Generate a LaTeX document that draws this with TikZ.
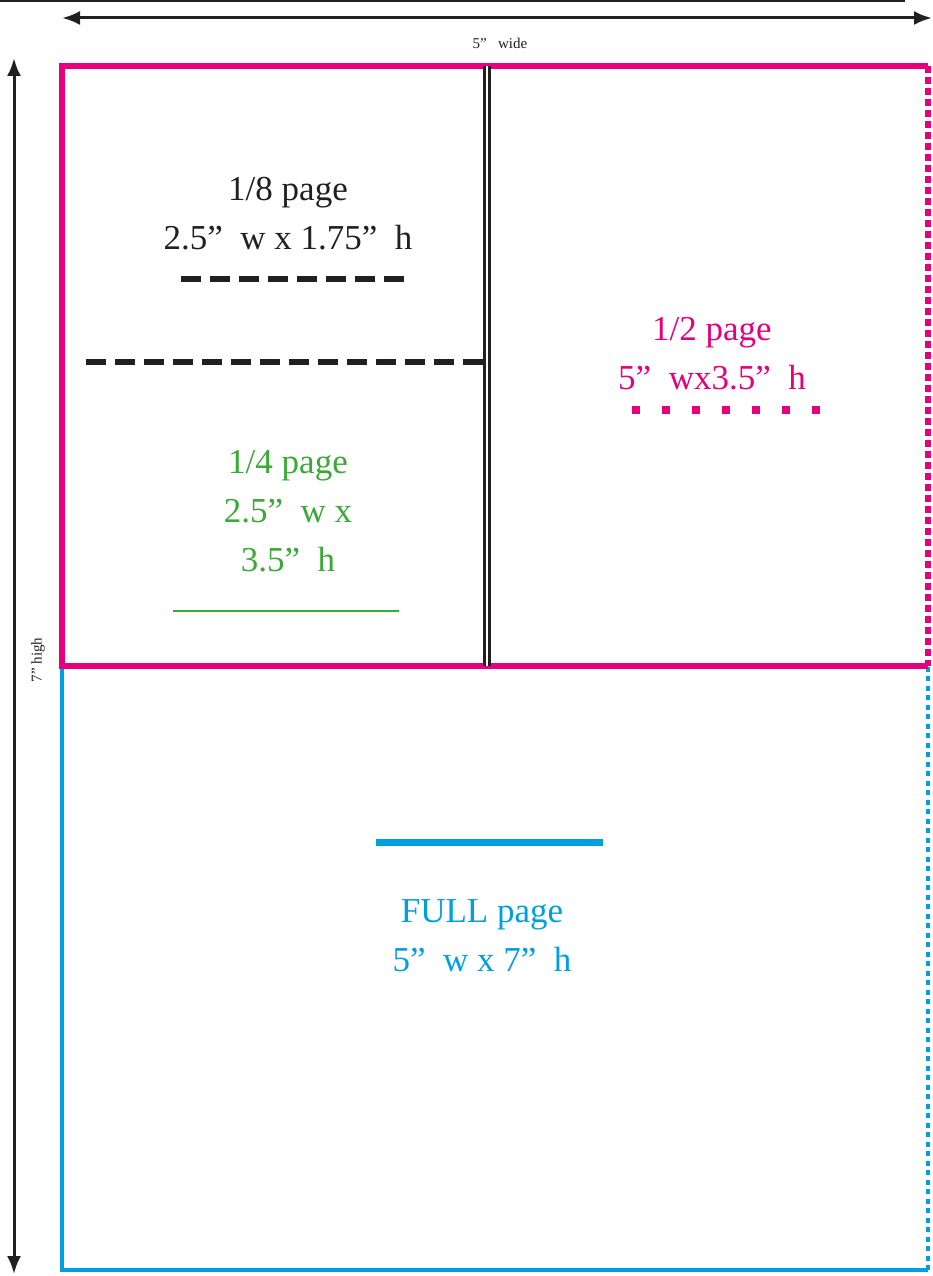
\documentclass[tikz,border=0pt]{standalone}
\usepackage{fontspec}
\setmainfont{Liberation Serif}
\usepackage{tikz}
\usetikzlibrary{arrows.meta, positioning}

\definecolor{adpink}{HTML}{E6007E}
\definecolor{adblue}{HTML}{00A0E0}
\definecolor{adgreen}{HTML}{3AA935}
\definecolor{adblack}{HTML}{231F20}

\begin{document}
\begin{tikzpicture}[
		x=1pt,
		y=-1pt,
		font=\fontsize{35}{49}\selectfont,
		dimarrow/.style={{Latex[length=18pt,width=14pt]}-{Latex[length=18pt,width=14pt]}, line width=3pt, adblack},
		dimlabel/.style={font=\fontsize{15}{18}\selectfont, adblack},
		label/.style={align=center, inner sep=0pt},
		frame/.style={line width=6pt, adpink},
		cutline/.style={line width=6pt, adblack, dash pattern=on 20pt off 9pt}
		]
		\useasboundingbox (0,0) rectangle (932,1276);
		
		% Corners of the page
		\coordinate (tl) at (62,66);
		\coordinate (tr) at (928,66);
		\coordinate (ml) at (62,666);
		\coordinate (mr) at (928,666);
		\coordinate (bl) at (62,1270);
		\coordinate (br) at (928,1270);
		\coordinate (tm) at (487,66);
		\coordinate (mm) at (487,666);
		
		% Top rule
		\draw[line width=2pt, adblack] (0,1) -- (905,1);
		
		% Dimension arrows
		\coordinate (wleft) at (62,18);
		\coordinate (wright) at (932,18);
		\coordinate (htop) at (14,58);
		\coordinate (hbot) at (14,1274);
		\draw[dimarrow] (wleft) -- (wright);
		\draw[dimarrow] (htop) -- (hbot);
		\node[dimlabel] (wide) at (500,43) {5”\ \ \ wide};
		\node[dimlabel, rotate=90] (high) at (38,660) {7”\ high};
		
		% Full page
		\draw[line width=4pt, adblue] (ml) -- (bl) -- (br);
		\draw[line width=4pt, adblue, dash pattern=on 5pt off 4.5pt] (br) -- (mr);
		
		% Half page
		\draw[frame] (mr) -- (ml) -- (tl) -- (tr);
		\draw[frame, dash pattern=on 7pt off 4pt] (tr) -- (mr);
		
		% Quarter split
		\draw[line width=3.5pt, adblack, double=white, double distance=1.5pt] (tm) -- (mm);
		\coordinate (sl) at (86,362);
		\coordinate (sr) at (492,362);
		\draw[cutline] (sl) -- (sr);
		
		% Labels
		\node[label, adblack] (eighth) at (288,214) {1/8 page\\2.5”\ \ w x 1.75”\ \ h};
		\draw[cutline] ([xshift=-107pt,yshift=-65pt]eighth.center) -- ([xshift=116pt,yshift=-65pt]eighth.center);
		
		\node[label, adgreen] (quarter) at (288,511) {1/4 page\\2.5”\ \ w x\\3.5”\ \ h};
		\draw[line width=2pt, adgreen] ([xshift=-115pt,yshift=-100pt]quarter.center) -- ([xshift=111pt,yshift=-100pt]quarter.center);
		
		\node[label, adpink] (half) at (712,354) {1/2 page\\5”\ \ wx3.5”\ \ h};
		\draw[line width=8pt, adpink, dash pattern=on 8pt off 22pt] ([xshift=-80pt,yshift=-56pt]half.center) -- ([xshift=108pt,yshift=-56pt]half.center);
		
		\node[label, adblue] (full) at (482,936) {FULL page\\5”\ \ w x 7”\ \ h};
		\draw[line width=7pt, adblue] ([xshift=-106pt,yshift=94pt]full.center) -- ([xshift=121pt,yshift=94pt]full.center);
	\end{tikzpicture}
\end{document}
